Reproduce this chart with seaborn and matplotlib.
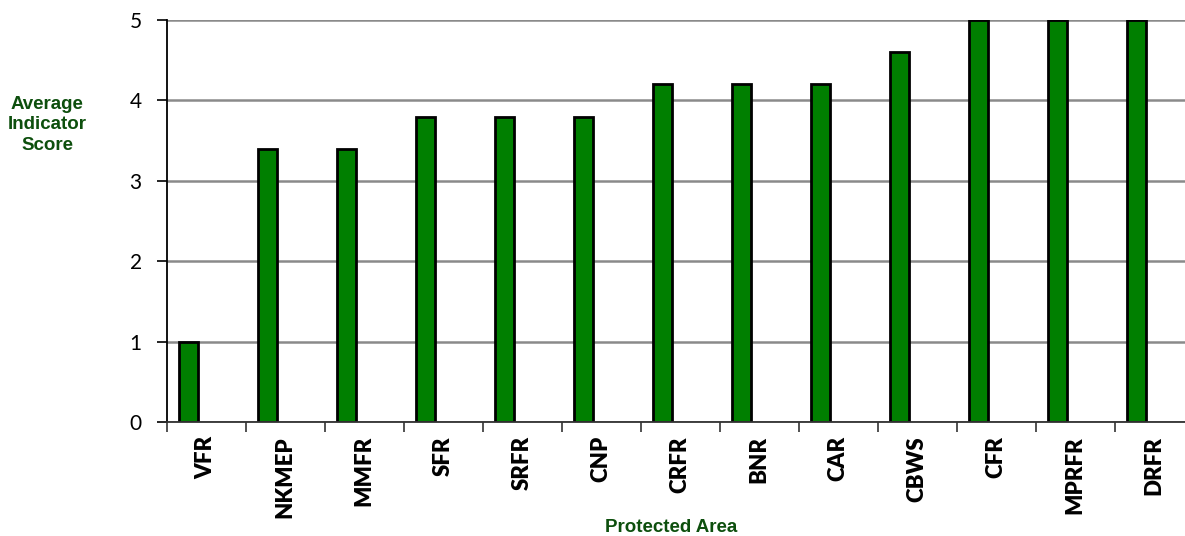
import matplotlib
matplotlib.use("Agg")
import matplotlib.pyplot as plt
import numpy as np
import pandas as pd
import seaborn as sns

# Average indicator score per protected area
areas = ["VFR", "NKMEP", "MMFR", "SFR", "SRFR", "CNP", "CRFR",
         "BNR", "CAR", "CBWS", "CFR", "MPRFR", "DRFR"]
scores = [1.0, 3.4, 3.4, 3.8, 3.8, 3.8, 4.2, 4.2, 4.2, 4.6, 5.0, 5.0, 5.0]
y_ticks = [0, 1, 2, 3, 4, 5]

sns.set_theme(style="white")
plt.rcParams["font.family"] = ["Lato", "DejaVu Sans"]

idx = np.arange(len(areas))
# bars sit in the left part of each category slot
bar_offset = -0.221
df = pd.DataFrame({"pos": idx + bar_offset, "score": scores})

fig = plt.figure(figsize=(11.85, 5.36), dpi=100)
ax = fig.add_axes([0.1407, 0.2121, 0.8667, 0.7506])

sns.barplot(data=df, x="pos", y="score", native_scale=True, width=0.237,
            color="#007F00", saturation=1, edgecolor="black", linewidth=2,
            ax=ax, zorder=3)

ax.set_xlim(-0.5, len(areas) - 0.5)
ax.set_ylim(0, 5)

# gridlines
ax.set_yticks(y_ticks)
ax.yaxis.grid(True, color="#8a8a8a", linewidth=1.8, zorder=0)
ax.xaxis.grid(False)
ax.set_axisbelow(True)

for s in ["top", "right"]:
    ax.spines[s].set_visible(False)
ax.spines["left"].set_color("black")
ax.spines["left"].set_linewidth(1.3)
ax.spines["bottom"].set_color("#333333")
ax.spines["bottom"].set_linewidth(1.3)
ax.spines["left"].set_zorder(4)
ax.spines["bottom"].set_zorder(4)

ax.set_yticklabels([str(t) for t in y_ticks], fontsize=15, color="black")
ax.tick_params(axis="y", which="major", direction="out", length=7, width=1.2,
               color="black", pad=11, left=True)

# category labels at slot centres, tick marks at slot boundaries
ax.set_xticks(idx)
ax.set_xticklabels(areas, rotation=90, fontsize=16, fontweight="heavy",
                   color="black", va="top", ha="center")
ax.tick_params(axis="x", which="major", length=0, pad=10)
ax.set_xticks(np.arange(len(areas) + 1) - 0.5, minor=True)
ax.tick_params(axis="x", which="minor", direction="out", length=7, width=1.2,
               color="#333333", bottom=True)

ax.set_xlabel("")
ax.set_ylabel("")

label_color = "#0d4f0d"
fig.text(0.040, 0.767, "Average\nIndicator\nScore", ha="center", va="center",
         fontsize=13.5, fontweight="bold", color=label_color,
         family=["Liberation Sans", "DejaVu Sans"], linespacing=1.25)
fig.text(0.566, 0.016, "Protected Area", ha="center", va="center",
         fontsize=13.5, fontweight="bold", color=label_color,
         family=["Liberation Sans", "DejaVu Sans"])

fig.savefig("out.png", dpi=100)
